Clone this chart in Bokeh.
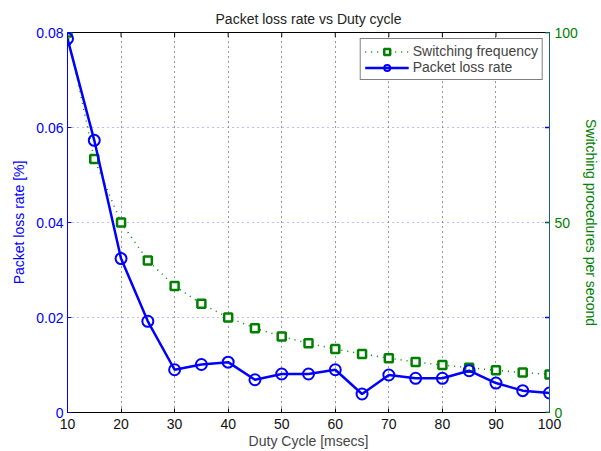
import math
from bokeh.plotting import figure
from bokeh.models import Range1d, LinearAxis, FixedTicker, Legend
from bokeh.embed import file_html
from bokeh.resources import INLINE

duty_cycle = [10, 15, 20, 25, 30, 35, 40, 45, 50, 55, 60, 65, 70, 75, 80, 85, 90, 95, 100]
packet_loss = [0.0787, 0.0573, 0.0324, 0.0192, 0.0090, 0.0101, 0.0106, 0.0069, 0.0081, 0.0081,
               0.0090, 0.0039, 0.0079, 0.0072, 0.0072, 0.0088, 0.0062, 0.0046, 0.0041]
switching_freq = [100, 66.7, 50, 40, 33.3, 28.6, 25, 22.2, 20, 18.2,
                  16.7, 15.4, 14.3, 13.3, 12.5, 11.8, 11.1, 10.5, 10]
x_ticks = [10, 20, 30, 40, 50, 60, 70, 80, 90, 100]
left_ticks = [0, 0.02, 0.04, 0.06, 0.08]
right_ticks = [0, 50, 100]
x_max = 100
y_top = 0.08

FONT = "Liberation Sans"
BLUE = "#0000ff"
GREEN = "#008000"

p = figure(frame_width=482, frame_height=380, output_backend="svg", toolbar_location=None,
           x_range=Range1d(10, x_max), y_range=Range1d(0, y_top),
           min_border_left=67, min_border_right=52, min_border_top=32, min_border_bottom=39)
p.extra_y_ranges = {"right": Range1d(0, 100)}

p.title.text = "Packet loss rate vs Duty cycle"
p.title.align = "center"
p.title.text_font = FONT
p.title.text_font_size = "14px"
p.title.text_font_style = "normal"
p.title.text_color = "#222222"
p.title.standoff = 12

p.outline_line_color = "black"
p.outline_line_width = 1

# x axis
xa = p.xaxis[0]
xa.ticker = FixedTicker(ticks=x_ticks)
xa.axis_label = "Duty Cycle [msecs]"
xa.axis_label_text_font = FONT
xa.axis_label_text_font_size = "14px"
xa.axis_label_text_font_style = "normal"
xa.axis_label_standoff = 1
xa.major_label_text_font = FONT
xa.major_label_text_font_size = "14px"
xa.major_label_text_color = "#111111"
xa.major_label_standoff = 6
xa.major_tick_in = 4
xa.major_tick_out = 0
xa.minor_tick_line_color = None
xa.axis_line_color = "black"

# left axis
ya = p.yaxis[0]
ya.ticker = FixedTicker(ticks=left_ticks)
ya.axis_label = "Packet loss rate [%]"
ya.axis_label_text_color = BLUE
ya.axis_label_text_font = FONT
ya.axis_label_text_font_size = "14px"
ya.axis_label_text_font_style = "normal"
ya.axis_label_standoff = 6
ya.major_label_text_font = FONT
ya.major_label_text_font_size = "14px"
ya.major_label_text_color = BLUE
ya.major_label_standoff = 4
ya.axis_line_color = BLUE
ya.major_tick_line_color = BLUE
ya.major_tick_in = 4
ya.major_tick_out = 0
ya.minor_tick_line_color = None

# right axis
ra = LinearAxis(y_range_name="right", ticker=FixedTicker(ticks=right_ticks))
ra.axis_label = "Switching procedures per second"
ra.axis_label_text_color = GREEN
ra.axis_label_text_font = FONT
ra.axis_label_text_font_size = "14px"
ra.axis_label_text_font_style = "normal"
ra.axis_label_standoff = 2
ra.major_label_text_font = FONT
ra.major_label_text_font_size = "14px"
ra.major_label_text_color = GREEN
ra.major_label_standoff = 5
ra.axis_line_color = "#1f5f6f"
ra.major_tick_line_color = GREEN
ra.major_tick_in = 4
ra.major_tick_out = 0
ra.minor_tick_line_color = None
p.add_layout(ra, "right")

# grids
p.xgrid.ticker = FixedTicker(ticks=x_ticks)
p.xgrid.grid_line_color = "black"
p.xgrid.grid_line_dash = "1 4"
p.xgrid.grid_line_alpha = 0.8
p.ygrid.ticker = FixedTicker(ticks=left_ticks)
p.ygrid.grid_line_color = "#7070ff"
p.ygrid.grid_line_dash = "1 4"
p.ygrid.grid_line_alpha = 0.9

# mirrored ticks on the top and right edges (half clipped by the frame)
p.scatter(x_ticks, [y_top] * len(x_ticks), marker="dash", angle=math.pi / 2, size=9,
          line_color="black", line_width=1)
p.scatter([x_max] * len(left_ticks), left_ticks, marker="dash", size=9,
          line_color=BLUE, line_width=1.5)

# series
sl = p.line(duty_cycle, switching_freq, y_range_name="right", line_color=GREEN,
            line_width=1.5, line_dash="1 5")
ss = p.scatter(duty_cycle, switching_freq, y_range_name="right", marker="square", size=8,
               line_color=GREEN, line_width=2.5, fill_color="white")
pl = p.line(duty_cycle, packet_loss, line_color=BLUE, line_width=2.5)
pc = p.scatter(duty_cycle, packet_loss, marker="circle", size=11,
               line_color=BLUE, line_width=2, fill_color=None)

legend = Legend(items=[("Switching frequency", [sl, ss]), ("Packet loss rate", [pl, pc])],
                location="top_right")
legend.border_line_color = "black"
legend.border_line_width = 1.5
legend.label_text_font = FONT
legend.label_text_font_size = "14px"
legend.padding = 4
legend.spacing = 0
legend.margin = 6
legend.label_height = 15
legend.glyph_height = 15
legend.glyph_width = 44
legend.label_standoff = 4
legend.background_fill_alpha = 1
p.add_layout(legend)

open("out.html", "w").write(file_html(p, INLINE))
